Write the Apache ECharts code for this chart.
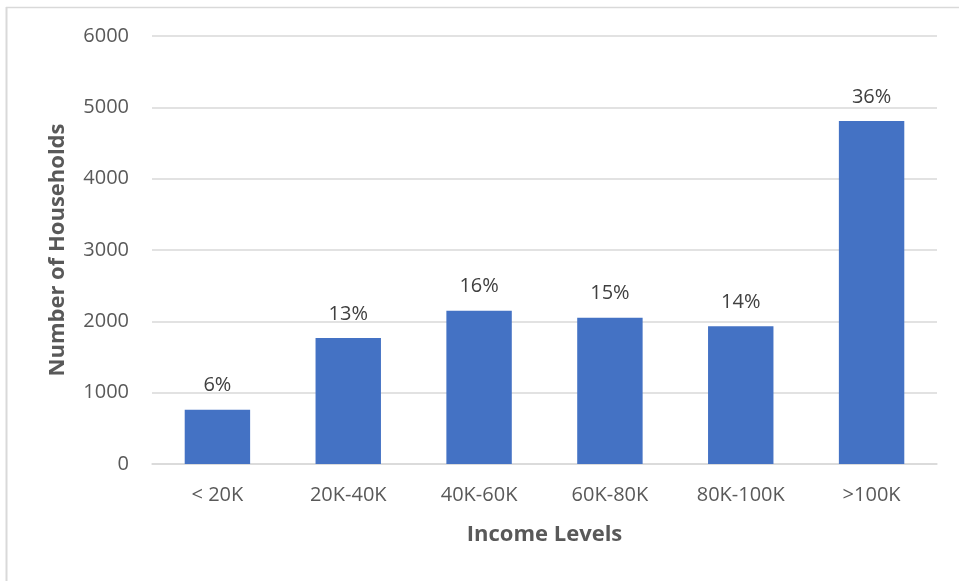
<!DOCTYPE html>
<html><head><meta charset="utf-8">
<script src="https://cdn.jsdelivr.net/npm/echarts@6/dist/echarts.min.js"></script>
<style>html,body{margin:0;padding:0;background:#fff}#c{width:959px;height:581px}</style>
</head><body><div id="c"></div>
<script>
const categories = ['< 20K', '20K-40K', '40K-60K', '60K-80K', '80K-100K', '>100K'];
const households = [760, 1765, 2150, 2050, 1930, 4810];
const percentLabels = ['6%', '13%', '16%', '15%', '14%', '36%'];
const yTicks = [0, 1000, 2000, 3000, 4000, 5000, 6000];

const chart = echarts.init(document.getElementById('c'));
const font = '"Open Sans", "Noto Sans", sans-serif';
chart.setOption({
  animation: false,
  graphic: [
    {type: 'line', shape: {x1: 6, y1: 7.5, x2: 959, y2: 7.5},
     style: {stroke: '#d9d9d9', lineWidth: 1.5}, silent: true},
    {type: 'line', shape: {x1: 6.5, y1: 7, x2: 6.5, y2: 581},
     style: {stroke: '#d9d9d9', lineWidth: 2}, silent: true}
  ],
  grid: {left: 152, right: 22, top: 36, bottom: 117, containLabel: false},
  xAxis: {
    type: 'category', data: categories,
    name: 'Income Levels', nameLocation: 'middle', nameGap: 60,
    nameTextStyle: {fontFamily: font, fontSize: 22, fontWeight: 'bold', color: '#595959'},
    axisLine: {show: true, lineStyle: {color: '#d9d9d9', width: 1.5}},
    axisTick: {show: false},
    axisLabel: {fontFamily: font, fontSize: 20, color: '#595959', margin: 21}
  },
  yAxis: {
    type: 'value', min: yTicks[0], max: yTicks[yTicks.length - 1], interval: 1000,
    name: 'Number of Households', nameLocation: 'middle', nameGap: 83,
    nameTextStyle: {fontFamily: font, fontSize: 22, fontWeight: 'bold', color: '#595959'},
    axisLine: {show: false}, axisTick: {show: false},
    axisLabel: {fontFamily: font, fontSize: 20, color: '#595959', margin: 23,
                formatter: v => String(v)},
    splitLine: {lineStyle: {color: '#d9d9d9', width: 1.5}}
  },
  series: [{
    type: 'bar', data: households, barWidth: '50%',
    itemStyle: {color: '#4472c4'},
    label: {
      show: true, position: 'top', distance: 14,
      fontFamily: font, fontSize: 20, color: '#404040',
      formatter: p => percentLabels[p.dataIndex]
    }
  }]
});
</script></body></html>
